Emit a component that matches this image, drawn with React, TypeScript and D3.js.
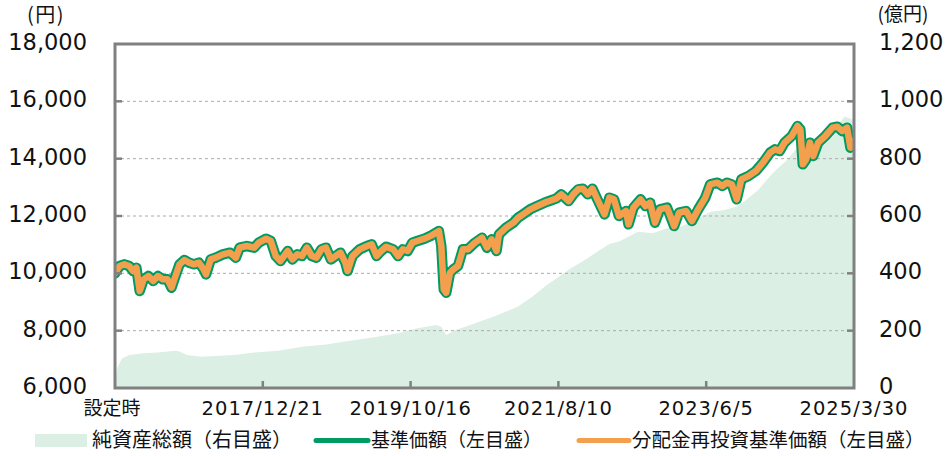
import React from "react";
import * as d3 from "d3";

// 基準価額 (円) — dates and values
const navDates: string[] = [
  "2016-02-26","2016-03-18","2016-04-08","2016-04-30","2016-05-17","2016-06-01","2016-06-16","2016-07-04","2016-07-25","2016-08-16",
  "2016-09-06","2016-09-28","2016-10-19","2016-11-06","2016-11-21","2016-12-12","2017-01-03","2017-01-24","2017-02-15","2017-03-09",
  "2017-03-30","2017-04-10","2017-05-01","2017-05-23","2017-06-25","2017-07-27","2017-08-22","2017-09-08","2017-10-10","2017-11-12",
  "2017-12-03","2018-01-05","2018-01-26","2018-02-17","2018-03-10","2018-04-12","2018-05-03","2018-05-25","2018-06-15","2018-07-07",
  "2018-07-29","2018-08-19","2018-09-10","2018-10-01","2018-10-23","2018-11-13","2018-12-05","2018-12-27","2019-01-06","2019-01-28",
  "2019-03-01","2019-04-03","2019-04-24","2019-05-16","2019-06-06","2019-06-28","2019-07-30","2019-08-21","2019-09-11","2019-10-03",
  "2019-10-24","2019-11-15","2019-12-17","2020-01-19","2020-02-20","2020-03-02","2020-03-13","2020-03-24","2020-04-10","2020-04-25",
  "2020-05-16","2020-06-07","2020-06-29","2020-07-31","2020-09-01","2020-09-23","2020-10-14","2020-11-05","2020-11-16","2020-12-18",
  "2021-01-20","2021-02-10","2021-03-04","2021-04-05","2021-05-07","2021-06-09","2021-06-30","2021-08-02","2021-08-23","2021-09-25",
  "2021-10-16","2021-11-07","2021-11-28","2021-12-20","2022-01-10","2022-02-01","2022-03-05","2022-03-27","2022-04-17","2022-05-09",
  "2022-06-10","2022-06-21","2022-07-13","2022-08-14","2022-09-05","2022-09-26","2022-10-18","2022-11-09","2022-12-11","2023-01-12",
  "2023-02-03","2023-03-07","2023-04-02","2023-04-30","2023-06-01","2023-06-23","2023-07-25","2023-08-16","2023-09-06","2023-09-28",
  "2023-10-20","2023-11-10","2023-12-12","2024-01-14","2024-02-15","2024-03-18","2024-04-09","2024-04-30","2024-05-22","2024-06-23",
  "2024-07-19","2024-08-01","2024-08-12","2024-08-27","2024-09-13","2024-09-28","2024-10-20","2024-11-21","2024-12-24","2025-01-14",
  "2025-02-05","2025-02-27","2025-03-14","2025-03-30",
];
const navValues: number[] = [
  10000,10255,10313,10255,10080,10197,9383,9790,9906,9731,
  9906,9790,9790,9499,9848,10313,10464,10371,10313,10371,
  10139,9964,10487,10546,10662,10720,10546,10895,10953,10895,
  11069,11208,11127,10604,10429,10778,10487,10662,10604,10895,
  10604,10546,10836,10895,10487,10604,10720,10371,10080,10604,
  10836,10953,11011,10604,10778,10929,10836,10604,10836,10778,
  11069,11127,11208,11325,11476,10953,9441,9324,10022,10139,
  10255,10836,10836,11069,11243,10895,11185,10778,11360,11592,
  11767,11941,12057,12232,12348,12465,12523,12616,12755,12523,
  12755,12930,12953,12755,12953,12581,12057,12639,12581,12000,
  12174,11709,12290,12581,12348,12465,11767,12232,12290,11650,
  12116,12174,11825,12232,12639,13104,13162,13046,13162,13104,
  12581,13279,13395,13569,13860,14209,14325,14267,14558,14790,
  15139,15023,13802,13976,14558,14093,14558,14790,15081,15116,
  14965,15081,14383,14616,
];
// 分配金再投資基準価額 (円) — no distributions, identical to 基準価額
const reinvestValues: number[] = [...navValues];

// 純資産総額 (億円)
const aumDates: string[] = [
  "2016-02-26","2016-03-07","2016-03-28","2016-04-30","2016-07-04","2016-09-06","2016-11-21","2016-12-12","2017-01-14","2017-03-19",
  "2017-05-23","2017-08-17","2017-11-12","2018-02-28","2018-06-15","2018-10-01","2019-01-17","2019-05-05","2019-08-21","2019-11-15",
  "2020-02-09","2020-03-02","2020-03-24","2020-05-06","2020-07-31","2020-10-25","2021-02-10","2021-04-16","2021-06-19","2021-08-12",
  "2021-10-05","2021-12-09","2022-01-21","2022-03-27","2022-05-09","2022-06-21","2022-08-03","2022-10-07","2022-12-11","2023-02-13",
  "2023-04-19","2023-06-23","2023-08-27","2023-10-20","2023-11-21","2024-01-25","2024-03-29","2024-06-02","2024-07-15","2024-08-06",
  "2024-09-18","2024-10-31","2025-01-04","2025-02-16","2025-03-30",
];
const aumValues: number[] = [
  8,70,103,115,121,124,130,127,115,109,
  112,115,124,130,144,152,165,177,191,208,
  220,214,185,202,226,249,284,319,359,388,
  418,447,470,502,511,528,545,540,557,563,
  586,615,621,633,650,691,749,795,836,819,
  842,877,906,947,935,
];

const xTickDates: string[] = ["2017-12-21", "2019-10-16", "2021-08-10", "2023-06-05", "2025-03-30"];
const xTickLabels: string[] = ["2017/12/21", "2019/10/16", "2021/8/10", "2023/6/5", "2025/3/30"];
const startLabel = "設定時";
const leftTicks: number[] = [6000, 8000, 10000, 12000, 14000, 16000, 18000];
const rightTicks: number[] = [0, 200, 400, 600, 800, 1000, 1200];
const legendLabels: string[] = ["純資産総額（右目盛）", "基準価額（左目盛）", "分配金再投資基準価額（左目盛）"];

const W = 946, H = 456;
const L = 115, R = 854, T = 44, B = 388;
const NUM_FONT = "'DejaVu Sans', Verdana, sans-serif";
const JP_FONT = "'Noto Sans CJK JP', sans-serif";
const GREEN = "#009b63";
const ORANGE = "#f39f4d";
const AREA = "#dcefe4";
const FRAME = "#808080";

export default function App() {
  const parse = d3.timeParse("%Y-%m-%d");
  const x = d3.scaleTime().domain([parse("2016-02-26")!, parse("2025-03-30")!]).range([L, R]);
  const yL = d3.scaleLinear().domain([6000, 18000]).range([B, T]);
  const yR = d3.scaleLinear().domain([0, 1200]).range([B, T]);

  const nav = navDates.map((d, i) => ({ d: parse(d)!, v: navValues[i] }));
  const rei = navDates.map((d, i) => ({ d: parse(d)!, v: reinvestValues[i] }));
  const aum = aumDates.map((d, i) => ({ d: parse(d)!, v: aumValues[i] }));

  const line = d3.line<{ d: Date; v: number }>().x((p) => x(p.d)).y((p) => yL(p.v)).curve(d3.curveLinear);
  const area = d3.area<{ d: Date; v: number }>().x((p) => x(p.d)).y0(yR(0)).y1((p) => yR(p.v));

  return (
    <svg width={W} height={H} style={{ position: "absolute", left: 0, top: 0, background: "#fff" }}>
      <defs>
        <clipPath id="plot"><rect x={L} y={T} width={R - L} height={B - T} /></clipPath>
      </defs>
      <g clipPath="url(#plot)">
        <path d={area(aum) || ""} fill={AREA} />
      </g>
      {leftTicks.slice(1, -1).map((t) => (
        <line key={t} x1={L} x2={R} y1={yL(t)} y2={yL(t)} stroke="#aaaaaa" strokeWidth={1} strokeDasharray="3,3" />
      ))}
      <g clipPath="url(#plot)">
        <path d={line(nav) || ""} fill="none" stroke={GREEN} strokeWidth={10.5} strokeLinejoin="round" strokeLinecap="round" />
        <path d={line(rei) || ""} fill="none" stroke={ORANGE} strokeWidth={6.5} strokeLinejoin="round" strokeLinecap="round" />
      </g>
      {/* frame */}
      <rect x={L} y={T} width={R - L} height={B - T} fill="none" stroke={FRAME} strokeWidth={3} />
      {leftTicks.slice(1, -1).map((t) => (
        <line key={"lt" + t} x1={L} x2={L + 7} y1={yL(t)} y2={yL(t)} stroke={FRAME} strokeWidth={2.5} />
      ))}
      {rightTicks.slice(1, -1).map((t) => (
        <line key={"rt" + t} x1={R - 7} x2={R} y1={yR(t)} y2={yR(t)} stroke={FRAME} strokeWidth={2.5} />
      ))}
      {xTickDates.slice(0, -1).map((d) => (
        <line key={"xt" + d} x1={x(parse(d)!)} x2={x(parse(d)!)} y1={B} y2={B - 7} stroke={FRAME} strokeWidth={2.5} />
      ))}
      {/* left axis labels */}
      {leftTicks.map((t) => (
        <text key={"ll" + t} x={87} y={yL(t) + 6} textAnchor="end" fontFamily={NUM_FONT} fontSize={22.5} fill="#111">
          {d3.format(",")(t)}
        </text>
      ))}
      {rightTicks.map((t) => (
        <text key={"rl" + t} x={879} y={yR(t) + 6} textAnchor="start" fontFamily={NUM_FONT} fontSize={22.5} fill="#111">
          {d3.format(",")(t)}
        </text>
      ))}
      <text x={46} y={22} textAnchor="middle" fontFamily={JP_FONT} fontSize={20} letterSpacing={1.5} fill="#111">(円)</text>
      <text x={903} y={21} textAnchor="middle" fontFamily={JP_FONT} fontSize={19} fill="#111">(億円)</text>
      {/* x labels */}
      <text x={L - 3} y={415} textAnchor="middle" fontFamily={JP_FONT} fontSize={19} fill="#111">{startLabel}</text>
      {xTickDates.map((d, i) => (
        <text key={"xl" + d} x={x(parse(d)!)} y={415} textAnchor="middle" fontFamily={NUM_FONT} fontSize={19.5} letterSpacing={1} fill="#111">
          {xTickLabels[i]}
        </text>
      ))}
      {/* legend */}
      <rect x={35} y={434} width={52} height={13} fill={AREA} />
      <text x={92} y={447} fontFamily={JP_FONT} fontSize={20} fill="#111">{legendLabels[0]}</text>
      <line x1={316} x2={368} y1={440.5} y2={440.5} stroke={GREEN} strokeWidth={5} strokeLinecap="round" />
      <text x={371} y={447} fontFamily={JP_FONT} fontSize={19} fill="#111">{legendLabels[1]}</text>
      <line x1={579} x2={629} y1={440.5} y2={440.5} stroke={ORANGE} strokeWidth={5} strokeLinecap="round" />
      <text x={632} y={447} fontFamily={JP_FONT} fontSize={19.5} fill="#111">{legendLabels[2]}</text>
    </svg>
  );
}
